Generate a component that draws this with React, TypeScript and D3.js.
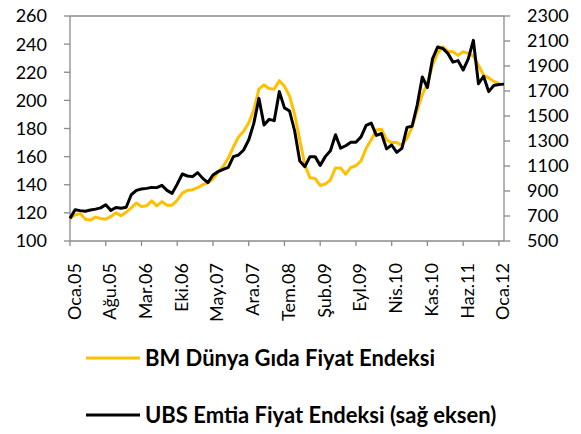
import React from "react";
import * as d3 from "d3";

// Turkish month abbreviations, series start
const monthAbbr = ["Oca", "Şub", "Mar", "Nis", "May", "Haz", "Tem", "Ağu", "Eyl", "Eki", "Kas", "Ara"];
const startYear = 2005;

// BM Dünya Gıda Fiyat Endeksi (left axis), Jan 2005 – Jan 2012
const foodIndex = [
  116, 118.5, 119.5, 115.5, 115, 117, 116, 115.5, 117.5, 120, 118, 120.5,
  123.5, 127, 124.5, 125, 128.5, 125, 128, 125.5, 125.5, 129, 134, 136,
  136.5, 138, 140, 141.5, 144, 149, 153, 159, 167, 174, 178, 184,
  193, 208, 211, 208.5, 208, 214, 210, 203, 190, 172, 154, 145,
  144.5, 139.5, 140.5, 143.5, 152, 152, 147.5, 152.3, 153.5, 157, 166, 172,
  179, 179.5, 172, 170, 170, 168, 173, 181, 193, 204, 212, 225,
  233.5, 238, 235, 234.5, 232, 234.5, 233.5, 231.5, 225, 218, 216, 213.5,
  212,
];

// UBS Emtia Fiyat Endeksi (right axis), Jan 2005 – Feb 2012
const ubsIndex = [
  681, 750, 743, 738, 748, 755, 765, 790, 745, 768, 762, 770,
  870, 905, 916, 921, 929, 927, 945, 905, 881, 955, 1036, 1020,
  1015, 1047, 1001, 967, 1028, 1055, 1073, 1089, 1175, 1188, 1228, 1308,
  1441, 1641, 1428, 1473, 1463, 1695, 1565, 1540, 1380, 1140, 1095, 1175,
  1175, 1105, 1175, 1222, 1350, 1243, 1262, 1290, 1290, 1333, 1425, 1443,
  1345, 1360, 1237, 1268, 1209, 1241, 1409, 1418, 1588, 1812, 1728, 1957,
  2052, 2041, 2001, 1931, 1943, 1868, 1957, 2105, 1758, 1818, 1695, 1744,
  1752, 1755,
];

const leftTicks = [100, 120, 140, 160, 180, 200, 220, 240, 260];
const rightTicks = [500, 700, 900, 1100, 1300, 1500, 1700, 1900, 2100, 2300];
const tickEvery = 7;

const seriesNames = ["BM Dünya Gıda Fiyat Endeksi", "UBS Emtia Fiyat Endeksi (sağ eksen)"];
const seriesColors = ["#FFC000", "#000000"];

const months = ubsIndex.map(
  (_, i) => `${monthAbbr[i % 12]}.${String((startYear + Math.floor(i / 12)) % 100).padStart(2, "0")}`
);

export default function App() {
  const W = 581;
  const H = 434;
  const left = 70;
  const right = 504;
  const top = 16;
  const bottom = 241;
  const axisColor = "#8a8a8a";
  const font = "Lato, 'Open Sans', sans-serif";
  const fs = 18;

  const x = d3.scalePoint<string>().domain(months).range([left, right]);
  const yL = d3.scaleLinear().domain([100, 260]).range([bottom, top]);
  const yR = d3.scaleLinear().domain([500, 2300]).range([bottom, top]);

  const lineL = d3
    .line<number>()
    .x((_, i) => x(months[i]) as number)
    .y((d) => yL(d));
  const lineR = d3
    .line<number>()
    .x((_, i) => x(months[i]) as number)
    .y((d) => yR(d));

  const xTicks = months.filter((_, i) => i % tickEvery === 0);

  return (
    <svg
      width={W}
      height={H}
      style={{ position: "absolute", left: 0, top: 0, background: "#fff" }}
      fontFamily={font}
    >
      <rect x={0} y={0} width={W} height={H} fill="#fff" />
      {/* frame */}
      <line x1={left} x2={right} y1={top} y2={top} stroke={axisColor} strokeWidth={1.3} />
      <line x1={left} x2={left} y1={top} y2={bottom} stroke={axisColor} strokeWidth={1.3} />
      <line x1={right} x2={right} y1={top} y2={bottom} stroke={axisColor} strokeWidth={1.3} />
      <line x1={left} x2={right} y1={bottom} y2={bottom} stroke={axisColor} strokeWidth={1.3} />

      {/* left axis */}
      {leftTicks.map((t) => (
        <g key={"l" + t}>
          <line x1={left - 6} x2={left} y1={yL(t)} y2={yL(t)} stroke={axisColor} strokeWidth={1.3} />
          <text x={47} y={yL(t)} dy="0.36em" textAnchor="end" fontSize={fs} fill="#000">
            {t}
          </text>
        </g>
      ))}

      {/* right axis */}
      {rightTicks.map((t) => (
        <g key={"r" + t}>
          <line x1={right} x2={right + 6} y1={yR(t)} y2={yR(t)} stroke={axisColor} strokeWidth={1.3} />
          <text x={527} y={yR(t)} dy="0.36em" textAnchor="start" fontSize={fs} fill="#000">
            {t}
          </text>
        </g>
      ))}

      {/* bottom axis */}
      {xTicks.map((m) => {
        const px = x(m) as number;
        return (
          <g key={"x" + m}>
            <line x1={px} x2={px} y1={bottom} y2={bottom + 5} stroke={axisColor} strokeWidth={1.3} />
            <text
              transform={`translate(${px},263) rotate(-90)`}
              dy={10.5}
              textAnchor="end"
              fontSize={fs}
              fill="#000"
            >
              {m}
            </text>
          </g>
        );
      })}

      {/* series */}
      <path d={lineL(foodIndex) || ""} fill="none" stroke={seriesColors[0]} strokeWidth={3} strokeLinejoin="round" />
      <path d={lineR(ubsIndex) || ""} fill="none" stroke={seriesColors[1]} strokeWidth={3} strokeLinejoin="round" />

      {/* legend */}
      {seriesNames.map((name, i) => {
        const ly = i === 0 ? 358 : 415;
        return (
          <g key={name}>
            <line x1={86} x2={140} y1={ly} y2={ly} stroke={seriesColors[i]} strokeWidth={3} />
            <text x={145} y={ly} dy="0.36em" fontSize={22} fontWeight="bold" fill="#000">
              {name}
            </text>
          </g>
        );
      })}
    </svg>
  );
}
